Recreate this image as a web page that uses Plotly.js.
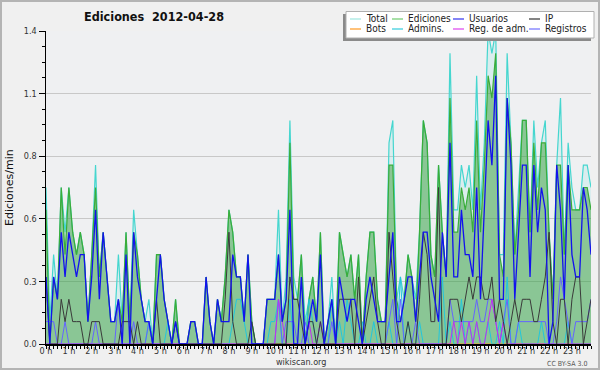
<!DOCTYPE html>
<html><head><meta charset="utf-8">
<script src="https://cdn.plot.ly/plotly-3.0.1.min.js"></script>
<style>
html,body{margin:0;padding:0;background:#f0f0f0;}
#chart{position:absolute;left:0;top:0;width:600px;height:370px;}
#border{position:absolute;left:0;top:0;width:600px;height:370px;box-sizing:border-box;border:2px solid #b4b4b4;pointer-events:none;}
</style></head><body><div id="chart"></div><div id="border"></div>
<script>
// 10-minute bins of 2012-04-28 (values in edits per minute)
const binsPerHour = 6;
const hourLabels = ["0 h","1 h","2 h","3 h","4 h","5 h","6 h","7 h","8 h","9 h","10 h","11 h","12 h","13 h","14 h","15 h","16 h","17 h","18 h","19 h","20 h","21 h","22 h","23 h"];
const yTickVals = [0, 0.28, 0.56, 0.84, 1.12, 1.4];
const yTickText = ["0.0", "0.3", "0.6", "0.8", "1.1", "1.4"];

const total = [
 0.7,0.1,0.4,0.2,0.7,0.5, 0.7,0.5,0.4,0.5,0.4,0.1, 0.4,0.8,0.3,0.5,0.3,0.1, 0.1,0.4,0.1,0.5,0.1,0.6,
 0.4,0.2,0.1,0.2,0,0.4, 0.4,0.2,0.1,0,0.2,0, 0,0,0.1,0.1,0,0, 0.3,0.1,0,0.2,0.1,0.3,
 0.6,0.5,0.3,0.3,0.1,0.4, 0.1,0,0,0,0.2,0.2, 0.2,0.6,0.1,0.3,1.0,0.3, 0.2,0.4,0.1,0.2,0.3,0.1,
 0.5,0,0.1,0.3,0,0.5, 0.4,0.3,0.4,0.2,0.4,0, 0.3,0.5,0.5,0.2,0.1,0.1, 0.9,1.0,0.2,0.3,0.2,0.4,
 0.3,0.2,0.5,1.0,0.9,0.4, 0.3,0.8,0.5,0.3,1.3,0.6, 0.6,0.8,0.7,0.8,0.6,1.2, 0.6,0.9,1.4,1.3,1.4,0.4,
 0.4,1.3,0.9,0.4,0.7,1.0, 1.0,0.5,1.0,0.7,0.9,1.0, 0.5,0.2,0.8,1.1,0.4,0.9, 0.7,0.6,0.6,0.8,0.8,0.7];
const ediciones = [
 0.6,0,0.3,0.2,0.7,0.4, 0.7,0.5,0.4,0.5,0.4,0.1, 0.4,0.7,0.3,0.5,0.3,0.1, 0.1,0.2,0.1,0.5,0.1,0.5,
 0.4,0.2,0.1,0.1,0,0.4, 0.4,0.2,0.1,0,0.2,0, 0,0,0.1,0.1,0,0, 0.3,0.1,0,0.2,0.1,0.3,
 0.6,0.5,0.3,0.3,0.1,0.4, 0.1,0,0,0,0.2,0.2, 0.2,0.4,0.1,0.2,0.9,0.2, 0.2,0.4,0,0.2,0.3,0.1,
 0.5,0,0.1,0.2,0,0.5, 0.4,0.3,0.4,0.2,0.4,0, 0.3,0.5,0.5,0.2,0.1,0.1, 0.8,0.8,0.2,0.1,0.2,0.4,
 0.3,0.1,0.5,1.0,0.9,0.4, 0.3,0.8,0.5,0.3,1.1,0.5, 0.5,0.7,0.6,0.7,0.5,1.0, 0.5,0.8,1.2,1.1,1.3,0.4,
 0.3,1.1,0.9,0.4,0.6,1.0, 1.0,0.5,0.9,0.6,0.9,0.9, 0.5,0.2,0.8,0.8,0.4,0.8, 0.6,0.6,0.6,0.7,0.7,0.6];
const usuarios = [
 0.3,0,0.3,0.2,0.5,0.3, 0.5,0.4,0.3,0.4,0.4,0.1, 0.3,0.6,0.2,0.5,0.3,0.1, 0.1,0.2,0,0.4,0,0.5,
 0.3,0.2,0.1,0.1,0,0.2, 0.4,0.2,0.1,0,0.1,0, 0,0,0.1,0.1,0,0, 0.3,0.1,0,0.2,0.1,0.1,
 0.1,0.4,0.3,0.3,0.1,0.4, 0,0,0,0,0.2,0.2, 0.2,0.4,0.1,0.2,0.6,0, 0,0.3,0,0.1,0.2,0.1,
 0.4,0,0.1,0.2,0,0.3, 0.2,0.1,0.2,0.2,0.1,0, 0.2,0.3,0.2,0.1,0.1,0.1, 0.3,0.5,0.1,0.1,0.2,0.3,
 0.3,0.1,0.3,0.5,0.5,0.3, 0.2,0.1,0.5,0.3,0.9,0.3, 0.3,0.6,0.4,0.4,0.3,0.7, 0.2,0.6,1.0,0.8,1.2,0.2,
 0.2,1.1,0.8,0.2,0.5,0.8, 0.8,0.3,0.8,0.5,0.7,0.6, 0,0.1,0.8,0.6,0.2,0.8, 0.4,0.3,0.3,0.7,0.6,0.4];
const ip = [
 0.3,0,0,0,0.2,0.1, 0.2,0.1,0.1,0.1,0,0, 0.1,0.1,0.1,0,0,0, 0,0,0.1,0.1,0.1,0,
 0.1,0,0,0,0,0.2, 0,0,0,0,0.1,0, 0,0,0,0,0,0, 0,0,0,0,0,0.2,
 0.5,0.1,0,0,0,0, 0.1,0,0,0,0,0, 0,0,0,0,0.3,0.2, 0.2,0.1,0,0.1,0.1,0,
 0.1,0,0,0,0,0.2, 0.2,0.2,0.2,0,0.3,0, 0.1,0.2,0.3,0.1,0,0, 0.5,0.3,0.1,0,0,0.1,
 0,0,0.2,0.5,0.4,0.1, 0.1,0.7,0,0,0.2,0.2, 0.2,0.1,0.2,0.3,0.2,0.3, 0.3,0.2,0.2,0.3,0.1,0.2,
 0.1,0,0.1,0.2,0.1,0.2, 0.2,0.2,0.1,0.1,0.2,0.3, 0.5,0.1,0,0.2,0.2,0, 0.2,0.3,0.3,0,0.1,0.2];
const bots = [
 0,0,0,0,0,0, 0,0,0,0,0,0, 0,0,0,0,0,0, 0,0,0,0,0,0,
 0,0,0,0,0,0, 0,0,0,0,0,0, 0,0,0,0,0,0, 0,0,0,0,0,0,
 0,0,0,0,0,0, 0,0,0,0,0,0, 0,0,0,0,0,0, 0,0,0,0,0,0,
 0,0,0,0,0,0, 0,0,0,0,0,0, 0,0,0,0,0,0, 0,0,0,0,0,0,
 0,0,0,0,0,0, 0,0,0,0,0,0, 0,0,0,0,0,0, 0,0,0,0,0,0,
 0,0,0,0,0,0, 0,0,0,0,0,0, 0,0,0,0,0,0, 0,0,0,0,0,0];
const admins = [
 0,0,0,0,0,0, 0,0,0,0,0,0, 0,0,0,0,0,0, 0,0,0,0,0,0,
 0,0,0,0.1,0,0, 0,0,0.1,0,0.1,0, 0,0,0,0,0,0, 0,0,0,0,0,0,
 0,0.1,0.2,0.2,0.1,0, 0,0,0,0,0,0.1, 0.1,0.2,0,0,0.2,0, 0,0,0,0.2,0.1,0,
 0.1,0,0,0.2,0,0.1, 0,0.2,0.1,0,0,0.1, 0,0,0.1,0,0,0, 0.1,0,0,0.3,0,0.1,
 0,0,0.1,0,0,0, 0,0,0.3,0,0.1,0, 0,0.2,0,0.1,0,0.1, 0,0,0.1,0,0,0.1,
 0,0.3,0,0,0.1,0, 0,0,0,0,0.1,0, 0,0,0,0,0,0.1, 0,0,0,0,0,0];
const regAdm = [
 0,0,0,0,0,0, 0,0,0,0,0,0, 0,0,0,0,0,0, 0,0,0,0,0,0,
 0,0,0,0,0,0, 0,0,0,0,0,0, 0,0,0,0,0,0, 0,0,0,0,0,0,
 0,0,0,0,0,0, 0,0,0,0,0,0, 0,0.2,0.1,0,0,0, 0,0,0,0.1,0,0,
 0.1,0,0,0,0,0, 0,0,0,0,0,0, 0,0,0,0,0,0, 0,0,0,0,0,0,
 0,0,0,0,0,0, 0,0,0,0,0,0.1, 0,0.1,0,0.1,0,0.1, 0,0,0.1,0.2,0.1,0,
 0.1,0,0,0,0,0, 0,0,0,0,0,0, 0,0,0,0,0,0, 0,0,0,0,0,0];
const registros = [
 0.1,0.1,0.1,0,0,0.1, 0,0,0,0,0,0, 0,0.1,0,0,0,0, 0,0.2,0,0,0,0.1,
 0,0,0,0.1,0,0, 0,0,0,0,0,0, 0,0,0,0,0,0, 0,0,0,0,0,0,
 0,0,0,0,0,0, 0,0,0,0,0,0, 0,0.2,0,0.1,0.1,0.1, 0,0,0.1,0,0,0,
 0,0,0,0.1,0,0, 0,0,0,0,0,0, 0,0,0,0,0,0, 0.1,0.2,0,0.2,0,0,
 0,0.1,0,0,0,0, 0,0,0,0,0.2,0.1, 0.1,0.1,0.1,0.1,0.1,0.2, 0.1,0.1,0.2,0.2,0.1,0,
 0.1,0.2,0,0,0.1,0.1, 0.1,0.1,0.1,0.1,0.1,0.1, 0,0,0.1,0.3,0.2,0.1, 0,0.1,0.1,0.1,0.1,0.2];

// x positions: time of day in hours for each 10-minute bin
const hours = total.map((_, i) => i / binsPerHour);

const FONT = "'DejaVu Sans Condensed', 'DejaVu Sans', sans-serif";

const series = [
  {name:"Total",        y:total,     color:"#45d6cf", legend:"#9fe6e0", width:1.2, fill:"rgba(110,225,215,0.16)"},
  {name:"Ediciones",    y:ediciones, color:"#3aad3a", legend:"#6fcc6f", width:1.2, fill:"rgba(40,150,40,0.45)"},
  {name:"Bots",         y:bots,      color:"#ff9922", legend:"#ff9922", width:1},
  {name:"Admins.",      y:admins,    color:"#22c6dc", legend:"#33ccdd", width:1},
  {name:"Registros",    y:registros, color:"#6464ff", legend:"#7070ff", width:1},
  {name:"Reg. de adm.", y:regAdm,    color:"#c030f0", legend:"#dd44ee", width:1},
  {name:"IP",           y:ip,        color:"#3a3a3a", legend:"#333333", width:1},
  {name:"Usuarios",     y:usuarios,  color:"#1212ee", legend:"#3333ee", width:1.3}
];

const traces = series.map(s => ({
  type:"scatter", mode:"lines", x:hours, y:s.y, name:s.name,
  line:{color:s.color, width:s.width},
  fill: s.fill ? "tozeroy" : "none",
  fillcolor: s.fill || undefined,
  hoverinfo:"skip"
}));

// plot area in pixels: x 46..591, y 31..344
const PL = 46, PR = 591, PT = 31, PB = 344;
const px = v => (v - PL) / (PR - PL);
const py = v => (PB - v) / (PB - PT);

// legend layout (4 columns x 2 rows)
const legendOrder = ["Total","Ediciones","Usuarios","IP","Bots","Admins.","Reg. de adm.","Registros"];
const colLine = [[350,361],[392,403],[453,464],[529,540]];
const colText = [366, 408, 469, 545];
const rowY = [19, 29];

const shapes = [
  {type:"rect", xref:"paper", yref:"paper", x0:px(343), x1:px(591), y0:py(41), y1:py(14), fillcolor:"#8a8a8a", line:{width:0}, layer:"above"},
  {type:"rect", xref:"paper", yref:"paper", x0:px(346), x1:px(594), y0:py(38), y1:py(11.5), fillcolor:"#ffffff", line:{color:"#b0b0b0", width:1}, layer:"above"}
];
const annotations = [
  {text:"Ediciones/min", xref:"paper", yref:"paper", x:px(9), y:py(188), textangle:-90, showarrow:false, xanchor:"center", yanchor:"middle", font:{family:"'DejaVu Sans', sans-serif", size:11, color:"#111"}},
  {text:"wikiscan.org", xref:"paper", yref:"paper", x:px(300.5), y:py(362), showarrow:false, xanchor:"center", yanchor:"middle", font:{family:FONT, size:9, color:"#333"}},
  {text:"CC BY-SA 3.0", xref:"paper", yref:"paper", x:px(589), y:py(363.5), showarrow:false, xanchor:"right", yanchor:"middle", font:{family:FONT, size:7, color:"#555"}}
];
legendOrder.forEach((nm, k) => {
  const s = series.find(t => t.name === nm);
  const c = k % 4, r = Math.floor(k / 4);
  shapes.push({type:"line", xref:"paper", yref:"paper", x0:px(colLine[c][0]), x1:px(colLine[c][1]), y0:py(rowY[r]), y1:py(rowY[r]), line:{color:s.legend, width:1.2}, layer:"above"});
  annotations.push({text:nm, xref:"paper", yref:"paper", x:px(colText[c]), y:py(rowY[r]), showarrow:false, xanchor:"left", yanchor:"middle", xshift:-2, font:{family:FONT, size:10, color:"#222"}});
});

const layout = {
  width:600, height:370,
  margin:{l:PL, r:600-PR, t:PT, b:370-PB, pad:0},
  paper_bgcolor:"#f0f0f0", plot_bgcolor:"#eff0f2",
  showlegend:false,
  font:{family:FONT, size:9, color:"#333"},
  title:{text:"Ediciones\u00a0 2012-04-28", x:154/600, xref:"container", xanchor:"center", y:1-16.5/370, yref:"container", yanchor:"middle", font:{family:FONT, size:12.5, color:"#111", weight:"bold"}},
  xaxis:{range:[0, (total.length-1)/binsPerHour], tickmode:"array", tickvals:hourLabels.map((_, h) => h), ticktext:hourLabels,
         ticks:"outside", ticklen:3, tickwidth:1, tickcolor:"#000", showline:true, linecolor:"#000", linewidth:1.5,
         showgrid:false, zeroline:false, tickfont:{family:FONT, size:9, color:"#333"}, ticklabelstandoff:-5,
         minor:{tickmode:"linear", tick0:0, dtick:1/binsPerHour, ticks:"outside", ticklen:3, tickcolor:"#000", showgrid:false}},
  yaxis:{range:[0, 1.4], tickmode:"array", tickvals:yTickVals, ticktext:yTickText,
         ticks:"outside", ticklen:6, tickwidth:1, tickcolor:"#000", showline:true, linecolor:"#000", linewidth:1.5,
         showgrid:true, gridcolor:"#c8c8c8", gridwidth:1, zeroline:false, tickfont:{family:FONT, size:9, color:"#333"},
         minor:{tickmode:"linear", tick0:0, dtick:0.07, ticks:"outside", ticklen:3, tickcolor:"#000", showgrid:false}},
  shapes:shapes, annotations:annotations
};

Plotly.newPlot("chart", traces, layout, {displayModeBar:false, staticPlot:true});
</script></body></html>
